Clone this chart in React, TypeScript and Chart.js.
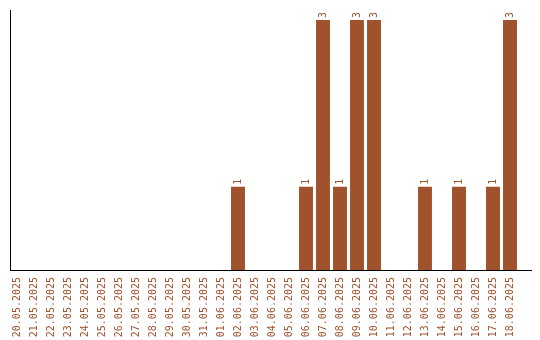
import React, { useEffect, useRef } from "react";
import { Chart, registerables } from "chart.js";

Chart.register(...registerables);

const dates: string[] = [
  "20.05.2025", "21.05.2025", "22.05.2025", "23.05.2025", "24.05.2025",
  "25.05.2025", "26.05.2025", "27.05.2025", "28.05.2025", "29.05.2025",
  "30.05.2025", "31.05.2025", "01.06.2025", "02.06.2025", "03.06.2025",
  "04.06.2025", "05.06.2025", "06.06.2025", "07.06.2025", "08.06.2025",
  "09.06.2025", "10.06.2025", "11.06.2025", "12.06.2025", "13.06.2025",
  "14.06.2025", "15.06.2025", "16.06.2025", "17.06.2025", "18.06.2025",
];

const counts: number[] = [
  0, 0, 0, 0, 0,
  0, 0, 0, 0, 0,
  0, 0, 0, 1, 0,
  0, 0, 1, 3, 1,
  3, 3, 0, 0, 1,
  0, 1, 0, 1, 3,
];

const BAR_COLOR = "#A0522D";
const FONT_FAMILY = "'DejaVu Sans Mono', monospace";

const valueLabels = {
  id: "valueLabels",
  afterDatasetsDraw(chart: any) {
    const ctx = chart.ctx;
    const meta = chart.getDatasetMeta(0);
    ctx.save();
    ctx.fillStyle = BAR_COLOR;
    ctx.font = `10px ${FONT_FAMILY}`;
    ctx.textAlign = "left";
    ctx.textBaseline = "middle";
    meta.data.forEach((bar: any, i: number) => {
      const v = counts[i];
      if (!v) return;
      ctx.save();
      ctx.translate(bar.x, bar.y - 2);
      ctx.rotate(-Math.PI / 2);
      ctx.fillText(String(v), 0, 0);
      ctx.restore();
    });
    ctx.restore();
  },
};

export default function App() {
  const ref = useRef<HTMLCanvasElement | null>(null);

  useEffect(() => {
    if (!ref.current) return;
    const chart = new Chart(ref.current, {
      type: "bar",
      data: {
        datasets: [
          {
            data: counts.map((v, i) => ({ x: i, y: v })),
            backgroundColor: BAR_COLOR,
            borderWidth: 0,
            barPercentage: 0.82,
            categoryPercentage: 1,
          },
        ],
      },
      options: {
        animation: false,
        responsive: false,
        layout: { padding: { left: 10, top: 10, right: 9, bottom: 0 } },
        plugins: {
          legend: { display: false },
          tooltip: { enabled: false },
        },
        scales: {
          x: {
            type: "linear",
            offset: false,
            min: -7 / 17,
            max: 514 / 17,
            afterBuildTicks: (axis: any) => {
              axis.ticks = dates.map((_, i) => ({ value: i }));
            },
            afterFit: (axis: any) => {
              axis.paddingLeft = 0;
              axis.paddingRight = 0;
              axis.height = 70;
            },
            grid: { display: false, drawTicks: false },
            border: { display: true, color: "#000", width: 1 },
            ticks: {
              autoSkip: false,
              minRotation: 90,
              maxRotation: 90,
              padding: 7,
              color: BAR_COLOR,
              font: { family: FONT_FAMILY, size: 10 },
              callback: (value: any) => dates[value as number] ?? "",
            },
          },
          y: {
            min: 0,
            max: 3.12,
            afterFit: (axis: any) => {
              axis.width = 0;
              axis.paddingTop = 0;
              axis.paddingBottom = 0;
            },
            grid: { display: false, drawTicks: false },
            border: { display: true, color: "#000", width: 1 },
            ticks: { display: false },
          },
        },
      },
      plugins: [valueLabels],
    });
    return () => chart.destroy();
  }, []);

  return (
    <canvas
      ref={ref}
      width={540}
      height={340}
      style={{ position: "absolute", left: 0, top: 0, display: "block", background: "#fff" }}
    />
  );
}
